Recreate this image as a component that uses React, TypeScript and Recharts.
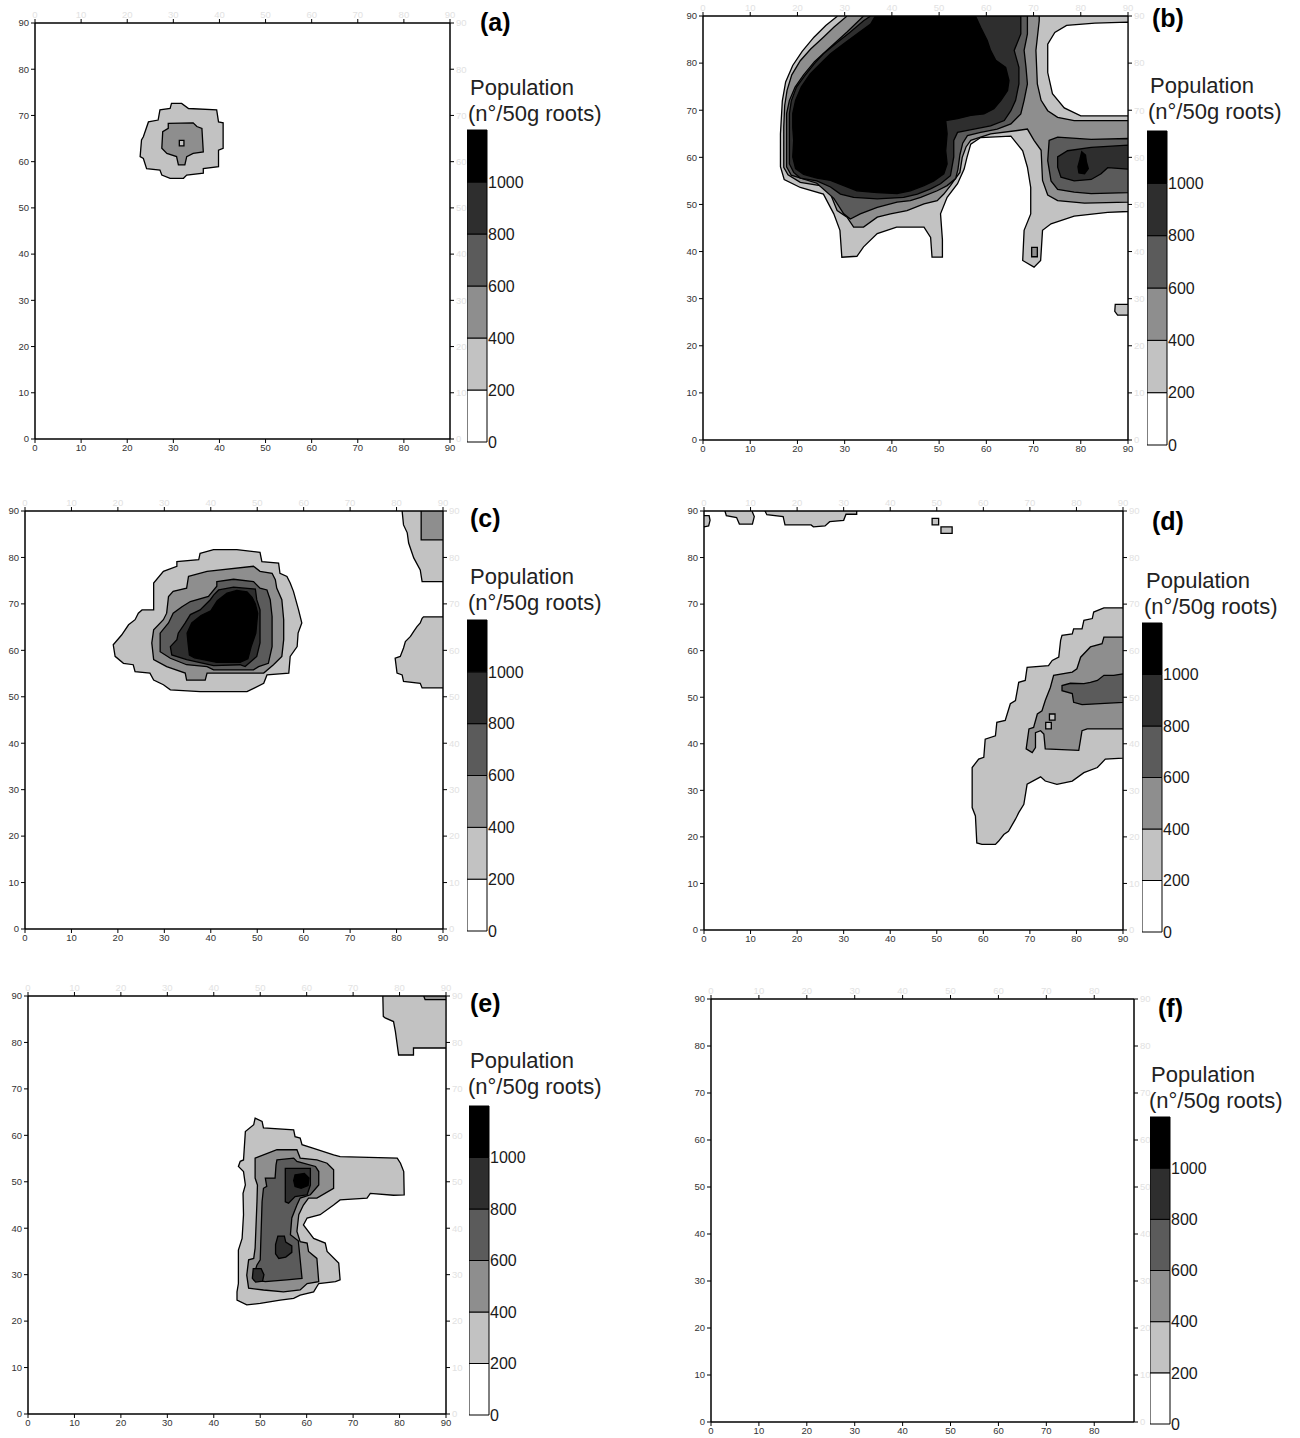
import React from 'react';
import { ScatterChart, Scatter, XAxis, YAxis, BarChart, Bar } from 'recharts';

type Pt = [number, number];

// fills of the six population classes (0-200 ... >1000)
const levelFills = ['#ffffff', '#c2c2c2', '#8e8e8e', '#5b5b5b', '#2e2e2e', '#000000'];
const legendBands = [200, 200, 200, 200, 200, 200];
const legendTicks = [0, 200, 400, 600, 800, 1000];
const axisTicks = [0, 10, 20, 30, 40, 50, 60, 70, 80, 90];
const axisTicksF = [0, 10, 20, 30, 40, 50, 60, 70, 80];

// ---- (a) ----
const aLow: Pt[] = [[29.6,72.6],[31.8,72.6],[33.3,71.5],[39.4,71.2],[39.8,68.6],[40.8,68.4],[40.8,62.9],[39.8,62.5],[39.8,58.9],[36.5,58.5],[36.5,57.5],[32.9,57.1],[32.2,56.4],[29.3,56.4],[27.5,57.1],[27.1,58.2],[24.2,58.5],[23.5,60.7],[22.8,61.1],[23.1,64.7],[23.5,65.4],[24.6,68.6],[26.7,69],[27.1,71.2],[29.3,71.5]];
const aMid: Pt[] = [[28.9,68.3],[34.3,68.4],[35.1,67.6],[36.2,67.2],[36.5,62.1],[34.3,61.8],[32.9,61.1],[32.5,59.3],[31.1,59.3],[30.7,61.1],[28.6,61.8],[27.5,62.9],[27.7,66.5],[28.9,67.2]];
const aDot: Pt[] = [[31.3,64.6],[32.3,64.6],[32.3,63.4],[31.3,63.4]];

// ---- (b) ----
const bL1: Pt[] = [[28.5,90],[26,88],[23.5,85.5],[21,82.5],[19,79.5],[17.5,76],[16.8,72],[16.4,65],[16.4,58],[17.2,55.3],[20.6,53.6],[25.5,52.2],[27.7,48],[29,44.5],[29.4,38.8],[32.6,39],[34,41],[36.9,43.8],[41,45.2],[46.8,45.2],[48.2,43],[48.5,38.8],[50.7,38.8],[50.7,42.5],[50.3,48],[51.7,51.5],[53.9,54.4],[55.3,57.5],[55.9,60],[56.7,62.8],[58.8,64.2],[65.2,64.5],[67.7,61.4],[68.7,57.9],[69.4,53.6],[69.4,48],[68,44.5],[67.7,38.1],[70.1,36.7],[71.5,38.1],[71.9,44.5],[73.7,45.9],[78.6,47.5],[85.7,48.3],[90,48.5],[90,90]];
const bL2: Pt[] = [[30.5,90],[27.7,87.6],[25.5,85.5],[22.8,83],[20.6,80.5],[18.8,77.5],[17.8,74.2],[17.3,71],[17.1,66.4],[17.1,57.9],[18,56.3],[20.6,54.7],[24.8,54],[27,52.2],[28.4,48.7],[30.5,47.3],[31.9,45.2],[34,45.2],[36.9,47.3],[39.7,48],[43.2,48.7],[46.8,50.1],[49.6,50.8],[51,52.2],[52.4,54],[53.1,55],[54.4,56.8],[54.9,60],[55.7,62.2],[56.7,63.6],[60.9,65],[66.6,65.7],[68.7,66],[70.1,63.6],[71.6,61.5],[71.9,55.1],[73,52],[75.1,50.8],[80.8,50.3],[90,50.5],[90,67.8],[78.6,67.8],[75.1,68.5],[73,69.9],[71.6,72.1],[70.8,75.6],[70.5,82.7],[71.2,89],[71.2,90]];
const bHole: Pt[] = [[73,78],[73,84],[74.5,86.5],[77,88],[83,88.5],[90,88.7],[90,68.8],[80,68.8],[76.5,70.5],[74,73.5]];
const bL3: Pt[] = [[34,90],[30.5,86.6],[27,83.4],[23.6,80.3],[21.3,77.5],[19.5,74.9],[18.3,72.1],[17.7,69.3],[17.7,58],[18.7,56.2],[24.1,54.5],[27.7,51.3],[29.8,48],[31.2,46.9],[33.3,48],[36.9,49.4],[41.1,50.5],[43.9,50.8],[46.1,51.5],[49.6,52.9],[51.7,54],[53.5,55.5],[54,57.5],[54.4,60.5],[55,63],[56,64.6],[58.8,65.3],[62.3,66],[65.2,67.1],[67.3,69.2],[68,72.1],[68.7,75.6],[68.4,79.1],[68,82.7],[68.7,86.2],[68.7,90]];
const bL4: Pt[] = [[35.5,90],[34,89],[31.2,86.6],[28.4,84.4],[25.5,82],[23.5,79.8],[21.6,77.4],[19.8,74.9],[18.7,72],[18.3,69.3],[18.3,58.6],[19.2,56.8],[20.6,55.6],[24.1,55],[27,53.7],[29.1,52.2],[31.9,51.5],[36.9,51.2],[42.5,51.5],[45.4,52.2],[48.2,53.3],[50.3,54.4],[52.4,56.1],[53.1,60.1],[53.1,63.6],[53.9,65.3],[57.4,66],[60.9,66.7],[63.8,67.8],[65.2,69.9],[66.2,72.1],[66.9,75.6],[66.9,79.1],[65.9,82.7],[67.3,86.2],[67.3,90]];
const bL5: Pt[] = [[36.5,90],[35.5,88.3],[32.6,86.2],[29.8,84.1],[27,82],[24.8,79.8],[22.7,77.7],[20.8,74.9],[19.6,72.1],[19,69.3],[19,66.4],[19.2,63.6],[19,60.1],[19.6,57.6],[21.3,56.4],[24.1,55.6],[27,55.1],[29.8,54],[32.6,52.9],[36.9,52.5],[41.1,52.3],[43.9,52.9],[46.8,54],[48.9,55],[51,56.5],[51.7,58.6],[51.4,61.4],[51.7,65],[51.4,67.8],[53.9,68.2],[56.7,68.9],[59.5,69.2],[61.6,70.3],[63.1,72.1],[64.5,74.2],[64.8,76.3],[64.1,79.1],[62,80.6],[60.9,82.7],[60.2,84.8],[58.8,87.6],[57.7,90]];
const bR3: Pt[] = [[73.3,63.6],[75.1,64.3],[82.2,63.8],[90,64],[90,52.5],[82.2,52.3],[78.6,52.6],[75.1,53.2],[73.7,55],[73,59.3]];
const bR4: Pt[] = [[75.1,60.1],[77.2,61.4],[82.2,62.1],[90,62.6],[90,57.5],[85.7,57.8],[84.3,56.5],[82.2,55.3],[78.6,55],[75.8,55.8],[75.1,57.9]];
const bR5: Pt[] = [[80.2,61.2],[81,60.5],[81.2,59],[81.6,57.6],[80.8,56.5],[79.6,56.7],[79.4,58],[79.8,59.5]];
const bBox: Pt[] = [[69.6,40.9],[70.8,40.9],[70.8,38.9],[69.6,38.9]];
const bEdge: Pt[] = [[87.3,28.8],[90,28.8],[90,26.5],[87.8,26.5],[87.2,27.3]];

// ---- (c) ----
const cL1: Pt[] = [[37.7,80.9],[40.6,81.7],[45.6,81.7],[50.6,81.1],[51,79.1],[54.6,78.8],[54.9,76.6],[56.4,75.9],[57.1,74.5],[57.8,72.7],[58.9,68.7],[59.6,65.9],[58.8,63.7],[58.6,60.8],[57.1,58.7],[56.8,55.1],[52.1,54.7],[51.4,52.9],[47.8,51.1],[37.7,51.1],[31.3,51.5],[29.8,52.6],[27.7,53.6],[26.9,55.1],[23.7,55.4],[23.3,56.9],[21.2,57.2],[19.4,58.7],[19,61.2],[20.8,63.3],[22.3,65.5],[23.7,66.6],[24.4,68],[25.2,68.7],[27.7,68.7],[27.7,74.5],[29.8,77],[32.7,78.1],[32.7,79.1],[37.4,79.5]];
const cL2: Pt[] = [[35.2,75.9],[39.2,77],[49.2,78.1],[50.6,77],[53.2,76.6],[53.9,75.2],[54.2,73.4],[55.3,70.9],[55.7,66.6],[55.7,62.3],[55.3,58.7],[53.5,56.9],[51.4,55.1],[39.2,55.1],[38.8,53.6],[34.8,53.6],[34.5,55.1],[30.5,56.5],[27.7,58],[27.3,61.6],[27.7,64.4],[29.8,66.6],[30.5,68],[30.9,71.6],[31.9,72.7],[34.8,73.4]];
const cL3: Pt[] = [[41.3,74.8],[44.9,75.3],[49.2,74.8],[50.6,73.4],[52.1,73],[52.8,70.9],[53.2,67.3],[53.2,60.8],[52.4,57.2],[50.3,56.5],[49.2,55.8],[40.6,55.8],[39.2,56.5],[34.8,56.9],[31.3,58.3],[29.1,59.7],[29.1,63.7],[30.9,65.9],[31.9,68],[33.8,69.4],[35.6,70.5],[39.5,71.6],[41.3,73.8]];
const cL4: Pt[] = [[41.7,73],[44.9,73.6],[49.6,73.2],[49.9,70.9],[50.6,68.7],[50.6,61.6],[49.9,58.7],[47.4,56.5],[46.3,56.9],[40.6,56.7],[34.8,58],[31.6,59],[31.3,60.8],[32.7,62.3],[33,63.7],[34.5,65.9],[35.6,67.7],[37.7,68.7],[39.9,70.9],[40.6,71.9]];
const cL5: Pt[] = [[43.5,72.3],[45.6,72.9],[47.8,72.6],[48.9,71.4],[49.6,70],[50.1,68],[49.7,63.7],[48.7,60.8],[48,58.2],[46.3,57.4],[41.3,57.4],[36.5,58.4],[35.4,59],[35.1,61.6],[34.9,63.7],[35.9,65.9],[37.9,67.5],[40,68.5],[41.4,70.7]];
const cTopR1: Pt[] = [[81.2,90],[81.5,87],[82.3,85.3],[82.6,83.1],[83.7,79.9],[85.1,77.3],[85.5,74.8],[90,74.8],[90,90]];
const cTopR2: Pt[] = [[85.3,90],[85.3,83.8],[90,83.8],[90,90]];
const cSideR: Pt[] = [[85.8,67.2],[90,67.2],[90,51.9],[85.5,51.9],[85.1,52.9],[81.5,53.3],[81.2,54.7],[80.1,55.1],[79.7,58.3],[80.8,58.7],[81.5,60.5],[81.9,61.9],[83,63],[83.7,64.1],[84.4,65.1],[85.1,65.9],[85.5,66.9]];

// ---- (d) ----
const dL1: Pt[] = [[90,69.2],[85.9,69.2],[83.7,68.3],[83.4,66.9],[81.6,66.5],[81.2,64.7],[79.4,64.7],[79.1,63.6],[76.9,63.3],[76.6,62.2],[76.2,58.6],[74.8,57.9],[74,56.8],[69.4,56.4],[69,53.6],[67.6,53.2],[66.9,49.3],[65.8,48.6],[64.7,45],[62.9,44.6],[62.6,41.7],[60.4,41],[60.1,37.1],[59,36.7],[57.6,34.9],[57.6,26.3],[58.3,24.5],[58.6,18.7],[59.7,18.4],[62.6,18.4],[63.3,19.1],[64.4,20.5],[65.4,21.2],[66.9,23.8],[67.6,25.2],[68.7,27],[69.4,31.3],[72.3,32.9],[73.3,32],[75.8,31.3],[79.1,32],[81.6,33.8],[84.5,34.9],[86.2,36.7],[90,36.9]];
const dL2: Pt[] = [[90,62.9],[85.9,62.9],[85.5,61.5],[83,60.8],[80.9,58.6],[80.1,56.1],[79.1,55.4],[75.1,54.7],[74.4,52.1],[73.3,49.3],[72.6,47.1],[71.6,46.4],[70.8,43.5],[69.8,43.2],[69.2,38.9],[70.5,38.1],[71.2,39.2],[71.2,42.4],[72.3,42.8],[73,42.1],[73.3,38.9],[80.5,38.6],[81.2,42.8],[82.3,43.2],[90,43.2]];
const dL3: Pt[] = [[90,55],[88,54.7],[85.9,54.7],[84.5,53.6],[83,53.2],[81.6,52.9],[78.7,53],[76.9,52.5],[76.9,51.4],[79.1,50.8],[79.4,48.9],[81.2,48.4],[90,48.9]];
const dSq1: Pt[] = [[74.2,46.4],[75.4,46.4],[75.4,45.1],[74.2,45.1]];
const dSq2: Pt[] = [[73.4,44.6],[74.6,44.6],[74.6,43.2],[73.4,43.2]];
const dTop1: Pt[] = [[0,89],[1.1,89],[1.3,88],[1,86.8],[0,86.6]];
const dTop2: Pt[] = [[4.5,90],[4.8,89],[7,88.6],[7.6,87.2],[10.4,87.2],[10.8,88.8],[10.3,90]];
const dTop3: Pt[] = [[13.1,90],[13.5,89.2],[17,88.8],[17.4,87],[23,87],[23.5,86.6],[26,86.8],[27,87.7],[30,88],[30.5,89.3],[32.8,89.3],[32.8,90]];
const dTop4: Pt[] = [[49,88.4],[50.4,88.4],[50.4,87],[49,87]];
const dTop5: Pt[] = [[50.9,86.6],[53.3,86.6],[53.3,85.2],[50.9,85.2]];

// ---- (e) ----
const eCorner1: Pt[] = [[76.4,90],[76.5,85.6],[76.9,85.3],[78.7,84.5],[79.1,82.4],[79.8,77.3],[83,77.3],[83,78.8],[90,78.8],[90,90]];
const eCorner2: Pt[] = [[85.2,90],[85.5,89.2],[90,89.2],[90,90]];
const eL1: Pt[] = [[48.9,63.7],[50.4,63],[50.7,61.6],[57.2,61.2],[57.5,59.7],[58.6,59.4],[59,58],[61.5,57.2],[65.8,55.8],[67.2,55.4],[79.5,55.1],[80.2,54],[80.9,52.2],[81,47.2],[78.7,47.1],[73.7,47.5],[73,46.5],[67.2,46.1],[65.8,45],[62.9,42.9],[60.1,42.2],[59.3,40.7],[61.5,37.8],[64,36.8],[64.4,35],[66.9,32.5],[67.2,28.9],[66.2,28.5],[62.6,28.1],[61.5,26.3],[58.6,25.6],[57.2,24.9],[54.3,24.5],[50,23.8],[47.1,23.5],[45,24.5],[45,26.3],[45.3,28.1],[45.3,35.3],[46.1,37.8],[46.4,42.9],[46.3,47.5],[46.8,49.3],[46.4,52.2],[45.3,53.3],[45.7,54.4],[46.4,54.7],[46.8,60.8],[48.6,62.3]];
const eL2: Pt[] = [[48.9,55.1],[53.6,56.9],[57.9,56.9],[58.6,55.1],[62.2,54.7],[64.4,54],[65.8,52.6],[65.8,48.6],[62.2,46.5],[60.4,46.5],[59.3,45],[58.3,42.9],[57.9,39.3],[58.6,37.1],[60.1,36.8],[60.4,35],[62.2,33.5],[62.6,28.5],[60.1,28.1],[58.6,26.7],[55,26.3],[50.7,26.7],[47.5,27.1],[47.1,29.9],[47.5,33.2],[48.6,33.5],[48.9,35.7],[49.3,45.7],[49.4,49.3],[48.9,50.8]];
const eL3: Pt[] = [[53.6,54.7],[57.2,55.1],[57.9,54.4],[61.9,53.3],[62.6,52.2],[62.6,49.3],[60.8,47.2],[58.6,46.5],[57.9,45],[56.8,42.2],[56.5,38.6],[58.2,37.3],[59,29.2],[55.7,28.9],[51.1,28.5],[48.6,28.9],[48.6,29.9],[49.3,32.1],[50,33.2],[50.4,45.7],[50.7,48.6],[51.4,49],[51.1,50.8],[53.2,50.8],[53.4,53.6]];
const eL4a: Pt[] = [[55.4,52.9],[60.8,52.9],[60.8,49.3],[60.1,47.2],[57.5,46.8],[56.1,45.4],[55.4,45.7]];
const eL4b: Pt[] = [[53.8,38.3],[55.2,38.3],[55.5,37],[56.8,36.2],[56.8,34.8],[55.5,33.8],[54,33.5],[53.3,34.5],[53.3,36.5]];
const eL4c: Pt[] = [[48.5,31.3],[50.2,31.3],[50.8,30],[50.5,28.6],[49,28.4],[48.3,29.2]];
const eL5: Pt[] = [[57.5,51.5],[59.5,51.8],[60.5,50.8],[60.3,49.2],[58.8,48.6],[57.5,49],[57.2,50.3]];

type Layer = { lv: number; pts: Pt[] };
const layersA: Layer[] = [{ lv: 1, pts: aLow }, { lv: 2, pts: aMid }, { lv: 1, pts: aDot }];
const layersB: Layer[] = [
  { lv: 1, pts: bL1 }, { lv: 1, pts: bEdge }, { lv: 2, pts: bL2 }, { lv: 0, pts: bHole }, { lv: 2, pts: bBox },
  { lv: 3, pts: bL3 }, { lv: 4, pts: bL4 }, { lv: 5, pts: bL5 },
  { lv: 3, pts: bR3 }, { lv: 4, pts: bR4 }, { lv: 5, pts: bR5 },
];
const layersC: Layer[] = [
  { lv: 1, pts: cL1 }, { lv: 2, pts: cL2 }, { lv: 3, pts: cL3 }, { lv: 4, pts: cL4 }, { lv: 5, pts: cL5 },
  { lv: 1, pts: cTopR1 }, { lv: 2, pts: cTopR2 }, { lv: 1, pts: cSideR },
];
const layersD: Layer[] = [
  { lv: 1, pts: dL1 }, { lv: 2, pts: dL2 }, { lv: 3, pts: dL3 }, { lv: 1, pts: dSq1 }, { lv: 1, pts: dSq2 },
  { lv: 1, pts: dTop1 }, { lv: 1, pts: dTop2 }, { lv: 1, pts: dTop3 }, { lv: 1, pts: dTop4 }, { lv: 1, pts: dTop5 },
];
const layersE: Layer[] = [
  { lv: 1, pts: eCorner1 }, { lv: 2, pts: eCorner2 },
  { lv: 1, pts: eL1 }, { lv: 2, pts: eL2 }, { lv: 3, pts: eL3 },
  { lv: 4, pts: eL4a }, { lv: 4, pts: eL4b }, { lv: 4, pts: eL4c }, { lv: 5, pts: eL5 },
];
const layersF: Layer[] = [];

const FONT = '"Liberation Sans", Arial, sans-serif';
const noDot = () => <g />;
const tickStyle = { fontSize: 9.5, fill: '#333', fontFamily: FONT };
const ghostStyle = { fontSize: 9.5, fill: '#e2e2e2', fontFamily: FONT };

type PanelProps = { l: number; t: number; r: number; b: number; xMax: number; xTicks: number[]; layers: Layer[] };

const ContourPanel = ({ l, t, r, b, xMax, xTicks, layers }: PanelProps) => {
  const leftW = 28, rightW = 18, topH = 14, bottomH = 22;
  return (
    <div style={{ position: 'absolute', left: l - leftW, top: t - topH }}>
      <ScatterChart width={r - l + leftW + rightW} height={b - t + topH + bottomH} margin={{ top: 0, right: 0, bottom: 0, left: 0 }}>
        <XAxis xAxisId="b" type="number" dataKey="x" domain={[0, xMax]} ticks={xTicks} interval={0} allowDataOverflow
          height={bottomH} tickSize={4} tickMargin={1} tick={tickStyle}
          axisLine={{ stroke: '#000', strokeWidth: 1.5 }} tickLine={{ stroke: '#000' }} />
        <XAxis xAxisId="t" orientation="top" type="number" dataKey="x" domain={[0, xMax]} ticks={xTicks} interval={0} allowDataOverflow
          height={topH} tickSize={4} tickMargin={1} tick={ghostStyle}
          axisLine={{ stroke: '#000', strokeWidth: 1.5 }} tickLine={{ stroke: '#000' }} />
        <YAxis yAxisId="l" type="number" dataKey="y" domain={[0, 90]} ticks={axisTicks} interval={0} allowDataOverflow
          width={leftW} tickSize={4} tickMargin={2} tick={tickStyle}
          axisLine={{ stroke: '#000', strokeWidth: 1.5 }} tickLine={{ stroke: '#000' }} />
        <YAxis yAxisId="r" orientation="right" type="number" dataKey="y" domain={[0, 90]} ticks={axisTicks} interval={0} allowDataOverflow
          width={rightW} tickSize={4} tickMargin={2} tick={ghostStyle}
          axisLine={{ stroke: '#000', strokeWidth: 1.5 }} tickLine={{ stroke: '#000' }} />
        {layers.map((ly, i) => (
          <Scatter
            key={i}
            xAxisId="b"
            yAxisId="l"
            data={ly.pts.map(([x, y]) => ({ x, y }))}
            line={{ fill: levelFills[ly.lv], stroke: '#000', strokeWidth: 1.3 }}
            lineJointType="linearClosed"
            shape={noDot}
            isAnimationActive={false}
          />
        ))}
      </ScatterChart>
    </div>
  );
};

const bandKeys = legendBands.map((_, i) => `band${i}`);
const legendRow = [legendBands.reduce((acc: Record<string, number | string>, v, i) => { acc[bandKeys[i]] = v; return acc; }, { name: 'scale' })];

const LevelBar = ({ x, top, bottom }: { x: number; top: number; bottom: number }) => (
  <div style={{ position: 'absolute', left: x, top: top - 10 }}>
    <BarChart width={20 + 50} height={bottom - top + 20} data={legendRow} margin={{ top: 10, right: 0, bottom: 10, left: 0 }} barCategoryGap={0}>
      <XAxis dataKey="name" hide />
      <YAxis orientation="right" type="number" domain={[0, 1200]} ticks={legendTicks} interval={0} width={50}
        axisLine={false} tickLine={false} tickSize={0} tickMargin={1}
        tick={{ fontSize: 16, fill: '#1a1a1a', fontFamily: FONT }} />
      {bandKeys.map((k, i) => (
        <Bar key={k} dataKey={k} stackId="lv" fill={levelFills[i]} stroke="#000" strokeWidth={1} isAnimationActive={false} />
      ))}
    </BarChart>
  </div>
);

const Txt = ({ x, cy, size, bold, children }: { x: number; cy: number; size: number; bold?: boolean; children: React.ReactNode }) => (
  <div style={{ position: 'absolute', left: x, top: cy - size / 2, fontSize: size, lineHeight: `${size}px`, fontFamily: FONT, fontWeight: bold ? 700 : 400, color: bold ? '#000' : '#222', whiteSpace: 'nowrap' }}>
    {children}
  </div>
);

const panels = [
  { id: '(a)', box: { l: 35, t: 23, r: 450, b: 439 }, xMax: 90, xTicks: axisTicks, layers: layersA, tag: [480, 22], pop: [470, 88], bar: [467, 130, 442] },
  { id: '(b)', box: { l: 703, t: 16, r: 1128, b: 440 }, xMax: 90, xTicks: axisTicks, layers: layersB, tag: [1152, 18], pop: [1150, 86], bar: [1147, 131, 445] },
  { id: '(c)', box: { l: 25, t: 511, r: 443, b: 929 }, xMax: 90, xTicks: axisTicks, layers: layersC, tag: [470, 518], pop: [470, 577], bar: [467, 620, 931] },
  { id: '(d)', box: { l: 704, t: 511, r: 1123, b: 930 }, xMax: 90, xTicks: axisTicks, layers: layersD, tag: [1152, 521], pop: [1146, 581], bar: [1142, 623, 932] },
  { id: '(e)', box: { l: 28, t: 996, r: 446, b: 1414 }, xMax: 90, xTicks: axisTicks, layers: layersE, tag: [470, 1003], pop: [470, 1061], bar: [469, 1106, 1415] },
  { id: '(f)', box: { l: 711, t: 999, r: 1134, b: 1422 }, xMax: 88.3, xTicks: axisTicksF, layers: layersF, tag: [1158, 1008], pop: [1151, 1075], bar: [1150, 1117, 1424] },
];

const App = () => (
  <div style={{ position: 'absolute', left: 0, top: 0, width: 1300, height: 1438, background: '#fff', overflow: 'hidden' }}>
    {panels.map((p) => (
      <React.Fragment key={p.id}>
        <ContourPanel {...p.box} xMax={p.xMax} xTicks={p.xTicks} layers={p.layers} />
        <Txt x={p.tag[0]} cy={p.tag[1]} size={25} bold>{p.id}</Txt>
        <Txt x={p.pop[0]} cy={p.pop[1]} size={22}>Population</Txt>
        <Txt x={p.pop[0] - 2} cy={p.pop[1] + 26} size={22}>(n°/50g roots)</Txt>
        <LevelBar x={p.bar[0]} top={p.bar[1]} bottom={p.bar[2]} />
      </React.Fragment>
    ))}
  </div>
);

export default App;
